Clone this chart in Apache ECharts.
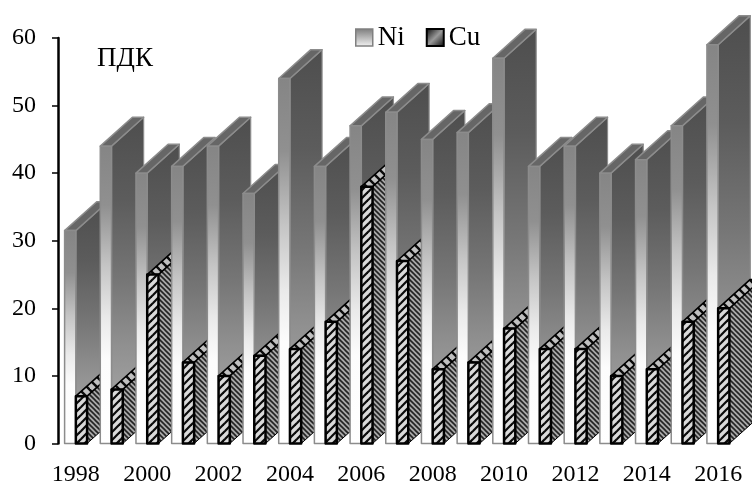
<!DOCTYPE html>
<html>
<head>
<meta charset="utf-8">
<style>html,body{margin:0;padding:0;background:#fff}#chart{width:752px;height:482px}</style>
<script src="https://cdn.jsdelivr.net/npm/echarts@6/dist/echarts.min.js"></script>
</head>
<body>
<div id="chart"></div>
<script>
// Annual metal concentrations, expressed in MPC units
var years = ['1998','1999','2000','2001','2002','2003','2004','2005','2006','2007','2008','2009','2010','2011','2012','2013','2014','2015','2016'];
var ni = [31.5,44,40,41,44,37,54,41,47,49,45,46,57,41,44,40,42,47,59];
var cu = [7,8,25,12,10,13,14,18,38,27,11,12,17,14,14,10,11,18,20];
var serif = '"Liberation Serif","Times New Roman",serif';

// Tiled hatch built on a small canvas
function hatch(size, bg, fg, lineW, dir) {
  var c = document.createElement('canvas');
  c.width = c.height = size;
  var g = c.getContext('2d');
  g.fillStyle = bg; g.fillRect(0, 0, size, size);
  g.strokeStyle = fg; g.lineWidth = lineW;
  for (var k = -1; k <= 1; k++) {
    g.beginPath();
    if (dir > 0) { g.moveTo(k * size - 1, size + 1); g.lineTo(k * size + size + 1, -1); }
    else { g.moveTo(k * size - 1, -1); g.lineTo(k * size + size + 1, size + 1); }
    g.stroke();
  }
  return { image: c, repeat: 'repeat' };
}
var cuFront = hatch(8, '#dadada', '#0a0a0a', 2.2, 1);
var cuSide = hatch(5, '#a8a8a8', '#222222', 1.6, -1);
var cuTop = hatch(10, '#c0c0c0', '#0a0a0a', 2.4, -1);

function vGrad(stops) {
  return { type: 'linear', x: 0, y: 0, x2: 0, y2: 1, global: false,
    colorStops: stops.map(function (s) { return { offset: s[0], color: s[1] }; }) };
}
var niFront = vGrad([[0,'#858585'],[0.2,'#909090'],[0.4,'#c4c4c4'],[0.58,'#eaeaea'],[0.72,'#fcfcfc'],[1,'#ffffff']]);
var niSide = vGrad([[0,'#4e4e4e'],[0.25,'#5c5c5c'],[0.5,'#767676'],[0.7,'#909090'],[1,'#b0b0b0']]);

// Draws one box: front face plus its receding top and side faces
function box(slot, look, layer) {
  return function (params, api) {
    var band = api.size([1, 0])[0];
    var w = band * 0.315, dx = band * 0.9, dy = band * 0.81;
    var top = api.coord([api.value(0), api.value(1)]);
    var base = api.coord([api.value(0), 0]);
    var x0 = top[0] + slot * w, x1 = x0 + w, y0 = top[1], y1 = base[1];
    var z = params.dataIndex * 2 + layer;
    function face(pts, fill, stroke, lw) {
      return { type: 'polygon', z2: z, shape: { points: pts },
        style: { fill: fill, stroke: stroke, lineWidth: lw, lineJoin: 'round' } };
    }
    return { type: 'group', children: [
      face([[x1,y0],[x1+dx,y0-dy],[x1+dx,y1-dy],[x1,y1]], look.side, look.edge, look.sideW),
      face([[x0,y0],[x0+dx,y0-dy],[x1+dx,y0-dy],[x1,y0]], look.top, look.edge, look.topW),
      face([[x0,y0],[x1,y0],[x1,y1],[x0,y1]], look.front, look.edge, look.frontW)
    ] };
  };
}

var chart = echarts.init(document.getElementById('chart'), null, { renderer: 'canvas' });
chart.setOption({
  animation: false,
  backgroundColor: '#fff',
  grid: { left: 58, top: 38, width: 678, height: 405.5, outerBoundsMode: 'none' },
  title: { text: 'ПДК', left: 92, top: 40,
    textStyle: { fontFamily: serif, fontSize: 27, fontWeight: 'normal', color: '#000' } },
  legend: {
    left: 350, top: 19, itemWidth: 17, itemHeight: 17, itemGap: 21,
    selectedMode: false,
    textStyle: { fontFamily: serif, fontSize: 27, color: '#000' },
    data: [
      { name: 'Ni', icon: 'rect', itemStyle: { color: vGrad([[0,'#7b7b7b'],[1,'#f4f4f4']]), borderColor: '#808080', borderWidth: 1.5 } },
      { name: 'Cu', icon: 'rect', itemStyle: {
        color: { type: 'linear', x: 0, y: 0, x2: 1, y2: 1, colorStops: [{offset:0,color:'#000'},{offset:0.5,color:'#9a9a9a'},{offset:1,color:'#000'}] },
        borderColor: '#000', borderWidth: 2 } }
    ]
  },
  xAxis: {
    type: 'category', data: years,
    axisLine: { show: false }, axisTick: { show: false },
    axisLabel: { interval: 1, margin: 19, fontFamily: serif, fontSize: 24, color: '#000' }
  },
  yAxis: {
    type: 'value', min: 0, max: 60, interval: 10,
    splitLine: { show: false },
    axisLine: { show: true, lineStyle: { color: '#000', width: 2.5 } },
    axisTick: { show: true, length: 6, lineStyle: { color: '#000', width: 1.5 } },
    axisLabel: { margin: 22, padding: [6, 0, 0, 0], fontFamily: serif, fontSize: 24, color: '#000' }
  },
  series: [
    { name: 'Ni', type: 'custom', clip: false, encode: { x: 0, y: 1 },
      data: ni.map(function (v, i) { return [years[i], v]; }),
      renderItem: box(-1, { front: niFront, side: niSide, top: '#666666', edge: '#8c8c8c', frontW: 1.5, sideW: 1.2, topW: 1.5 }, 0) },
    { name: 'Cu', type: 'custom', clip: false, encode: { x: 0, y: 1 },
      data: cu.map(function (v, i) { return [years[i], v]; }),
      renderItem: box(0, { front: cuFront, side: cuSide, top: cuTop, edge: '#000', frontW: 2.5, sideW: 1, topW: 1.6 }, 1) }
  ]
});
</script>
</body>
</html>
